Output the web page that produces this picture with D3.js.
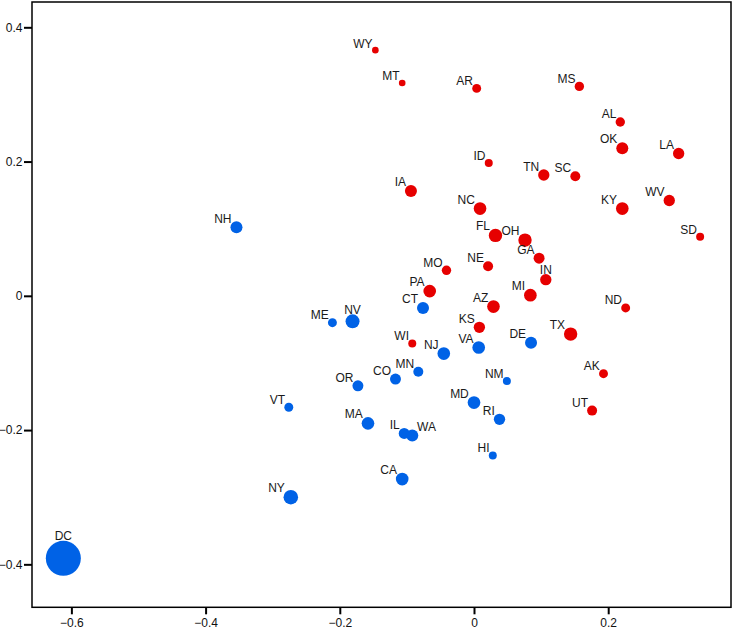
<!DOCTYPE html>
<html>
<head>
<meta charset="utf-8">
<script src="https://cdn.jsdelivr.net/npm/d3@7"></script>
<style>
  html, body { margin: 0; padding: 0; background: #fff; }
  svg { display: block; font-family: "Liberation Sans", Arial, sans-serif; }
</style>
</head>
<body>
<svg id="chart" width="734" height="629"></svg>
<script>
// ---- data ----
const states = ["WY","MT","AR","MS","AL","OK","LA","ID","TN","SC","IA","KY","NC","WV","NH","FL","OH","SD","GA","MO","NE","IN","PA","MI","ND","CT","AZ","ME","NV","KS","TX","DE","WI","VA","NJ","MN","AK","CO","NM","OR","MD","VT","UT","RI","MA","IL","WA","HI","CA","NY","DC"];
const xValues = [-0.147,-0.107,0.004,0.157,0.218,0.221,0.305,0.022,0.104,0.151,-0.094,0.221,0.009,0.291,-0.354,0.032,0.076,0.337,0.097,-0.041,0.021,0.107,-0.066,0.084,0.226,-0.076,0.029,-0.211,-0.181,0.008,0.144,0.085,-0.092,0.007,-0.045,-0.083,0.193,-0.117,0.049,-0.173,0.000,-0.276,0.176,0.038,-0.158,-0.104,-0.092,0.028,-0.107,-0.273,-0.612];
const yValues = [0.366,0.317,0.309,0.312,0.259,0.220,0.212,0.198,0.180,0.178,0.156,0.130,0.130,0.142,0.102,0.090,0.083,0.088,0.056,0.038,0.044,0.024,0.007,0.001,-0.018,-0.018,-0.016,-0.040,-0.038,-0.047,-0.057,-0.070,-0.071,-0.077,-0.086,-0.113,-0.116,-0.124,-0.127,-0.134,-0.159,-0.166,-0.171,-0.184,-0.190,-0.205,-0.208,-0.238,-0.273,-0.300,-0.391];
const party = ["R","R","R","R","R","R","R","R","R","R","R","R","R","R","D","R","R","R","R","R","R","R","R","R","R","D","R","D","D","R","R","D","R","D","D","D","R","D","D","D","D","D","R","D","D","D","D","D","D","D","D"];
const weights = [11,11,20,22,22,36,32,16,32,25,36,40,40,32,36,45,45,16,30,22,25,32,40,40,20,36,40,20,49,32,45,36,16,40,40,25,20,30,16,30,40,20,25,32,40,30,36,16,40,53,306];
const xTicks = [-0.6,-0.4,-0.2,0,0.2];
const yTicks = [-0.4,-0.2,0,0.2,0.4];

// label placement style (default: upper-left of the dot)
const labelSide = { WA: "upperRight", NV: "above", IN: "above", DC: "above" };

// ---- chart ----
const svg = d3.select("#chart");
const mLeft = 32, mRight = 731, mTop = 2, mBottom = 607.3;

const x = d3.scaleLinear().domain([-0.6587, 0.383]).range([mLeft, mRight]);
const y = d3.scaleLinear().domain([-0.464, 0.4377]).range([mBottom, mTop]);
const r = d3.scaleSqrt().domain([0, 306]).range([0, 17.5]);
const color = d3.scaleOrdinal().domain(["R","D"]).range(["#e60000","#0062e6"]);

const data = states.map((s, i) => ({ s, x: xValues[i], y: yValues[i], p: party[i], w: weights[i] }));

// axes
const fmt = d => d === 0 ? "0" : d3.format(".1f")(d);
const xAxis = svg.append("g")
  .attr("transform", `translate(0,${mBottom})`)
  .call(d3.axisBottom(x).tickValues(xTicks).tickSize(7).tickPadding(4.5).tickSizeOuter(0).tickFormat(fmt));
const yAxis = svg.append("g")
  .attr("transform", `translate(${mLeft},0)`)
  .call(d3.axisLeft(y).tickValues(yTicks).tickSize(8).tickPadding(1.5).tickSizeOuter(0).tickFormat(fmt));
[xAxis, yAxis].forEach(g => {
  g.select(".domain").remove();
  g.selectAll(".tick line").attr("stroke", "#000").attr("stroke-width", 2);
  g.selectAll(".tick text").attr("fill", "#111").style("font-size", "12px")
    .style("font-family", "'Liberation Sans', Arial, sans-serif");
});

// frame
svg.append("rect")
  .attr("x", mLeft).attr("y", mTop)
  .attr("width", mRight - mLeft).attr("height", mBottom - mTop)
  .attr("fill", "none").attr("stroke", "#000").attr("stroke-width", 1.5);

// points
svg.append("g").selectAll("circle").data(data).join("circle")
  .attr("cx", d => x(d.x)).attr("cy", d => y(d.y))
  .attr("r", d => r(d.w))
  .attr("fill", d => color(d.p));

// labels
function labelPos(d) {
  const cx = x(d.x), cy = y(d.y), rr = r(d.w);
  const side = labelSide[d.s] || "upperLeft";
  if (side === "above") return { x: cx, y: cy - rr - 0.5, a: "middle" };
  if (side === "upperRight") return { x: cx + 0.8 * rr, y: cy - 0.8 * rr, a: "start" };
  return { x: cx - 0.82 * rr, y: cy - 0.78 * rr, a: "end" };
}
svg.append("g").selectAll("text").data(data).join("text")
  .attr("x", d => labelPos(d).x)
  .attr("y", d => labelPos(d).y)
  .attr("text-anchor", d => labelPos(d).a)
  .attr("fill", "#1a1a1a")
  .style("font-size", "12px")
  .text(d => d.s);
</script>
</body>
</html>
